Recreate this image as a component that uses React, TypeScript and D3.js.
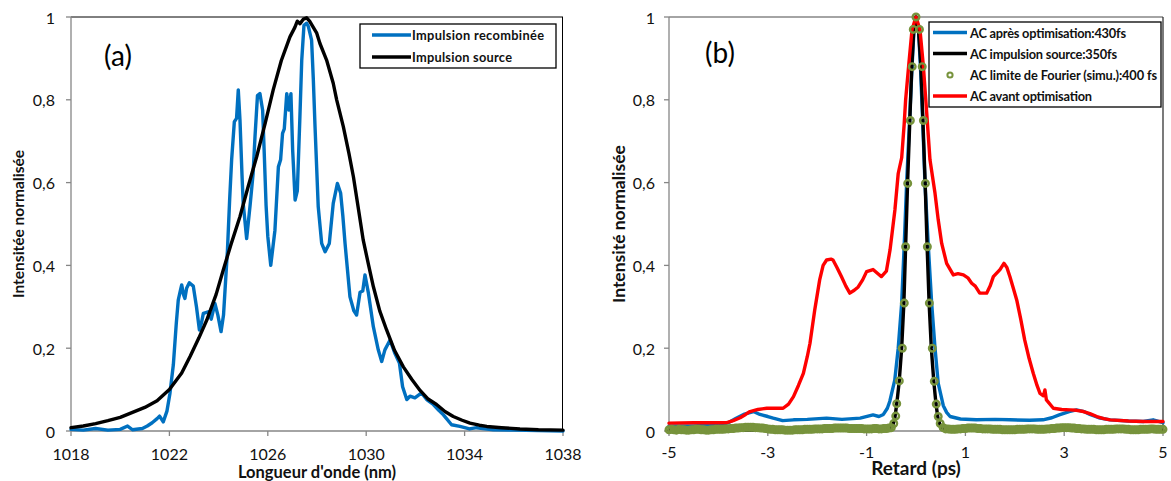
import React from "react";
import * as d3 from "d3";

// ---------- Panel (a): spectra ----------
const blueWl = [1018.0,1018.5,1019.0,1019.5,1020.0,1020.3,1020.5,1020.9,1021.1,1021.3,1021.5,1021.6,1021.75,1021.9,1022.02,1022.16,1022.28,1022.36,1022.45,1022.5,1022.57,1022.63,1022.7,1022.81,1022.97,1023.1,1023.22,1023.3,1023.38,1023.58,1023.7,1023.85,1023.97,1024.1,1024.2,1024.36,1024.45,1024.53,1024.64,1024.73,1024.8,1024.87,1024.95,1025.0,1025.14,1025.28,1025.4,1025.48,1025.58,1025.68,1025.79,1025.85,1025.93,1026.0,1026.12,1026.29,1026.43,1026.52,1026.6,1026.67,1026.77,1026.86,1026.94,1027.01,1027.11,1027.2,1027.3,1027.38,1027.47,1027.58,1027.65,1027.78,1027.85,1027.92,1028.05,1028.19,1028.33,1028.5,1028.66,1028.83,1028.96,1029.05,1029.14,1029.34,1029.5,1029.61,1029.75,1029.86,1029.95,1030.09,1030.29,1030.49,1030.63,1030.76,1030.97,1031.17,1031.35,1031.48,1031.65,1031.78,1031.98,1032.25,1032.46,1032.73,1032.95,1033.14,1033.47,1033.81,1034.2,1034.49,1035.17,1036.0,1037.0,1038.0];
const blueVal = [0.004,0.002,0.006,0.002,0.004,0.012,0.003,0.006,0.012,0.02,0.03,0.036,0.022,0.048,0.09,0.16,0.26,0.316,0.34,0.353,0.33,0.32,0.345,0.358,0.35,0.3,0.244,0.26,0.284,0.288,0.27,0.308,0.28,0.24,0.28,0.437,0.56,0.655,0.747,0.755,0.824,0.75,0.62,0.55,0.465,0.545,0.62,0.711,0.81,0.815,0.775,0.68,0.545,0.47,0.4,0.485,0.638,0.655,0.719,0.73,0.815,0.775,0.815,0.679,0.558,0.58,0.75,0.896,0.98,0.985,0.977,0.944,0.85,0.735,0.542,0.453,0.433,0.453,0.55,0.598,0.575,0.52,0.453,0.324,0.29,0.28,0.335,0.338,0.377,0.333,0.252,0.196,0.168,0.196,0.22,0.187,0.164,0.107,0.076,0.084,0.08,0.092,0.076,0.064,0.05,0.039,0.015,0.011,0.005,0.008,0.003,0.002,0.001,0.0];

const srcWl = [1018,1018.5,1019,1019.5,1020,1020.5,1021,1021.5,1022,1022.5,1022.84,1023.2,1023.52,1023.9,1024.19,1024.5,1024.87,1025.2,1025.55,1025.9,1026.22,1026.55,1026.9,1027.1,1027.2,1027.31,1027.45,1027.58,1027.7,1027.85,1027.99,1028.12,1028.39,1028.66,1028.8,1029.07,1029.3,1029.48,1029.7,1029.88,1030.1,1030.29,1030.55,1030.83,1031.15,1031.51,1031.85,1032.19,1032.5,1032.86,1033.2,1033.54,1033.9,1034.22,1034.6,1034.9,1035.5,1036.25,1037,1038];
const srcVal = [0.008,0.012,0.018,0.025,0.033,0.045,0.057,0.073,0.1,0.14,0.18,0.225,0.268,0.33,0.389,0.45,0.518,0.59,0.663,0.745,0.824,0.895,0.952,0.975,0.99,0.984,0.995,0.998,0.99,0.975,0.961,0.936,0.896,0.84,0.8,0.735,0.67,0.614,0.53,0.461,0.4,0.349,0.29,0.244,0.195,0.155,0.125,0.098,0.078,0.064,0.047,0.035,0.026,0.019,0.014,0.011,0.008,0.005,0.003,0.002];

// ---------- Panel (b): autocorrelations ----------
const acAfterT = [-5.0,-4.5,-4.0,-3.8,-3.65,-3.49,-3.29,-3.16,-3.0,-2.89,-2.7,-2.48,-2.2,-1.81,-1.5,-1.13,-0.87,-0.75,-0.66,-0.58,-0.53,-0.43,-0.36,-0.29,-0.24,-0.19,-0.13,-0.08,-0.04,0.0,0.05,0.09,0.135,0.182,0.25,0.317,0.385,0.45,0.553,0.62,0.69,0.9,1.22,1.6,1.9,2.3,2.57,2.75,2.9,3.1,3.25,3.4,3.52,3.7,3.93,4.3,4.6,4.8,5.0];
const acAfterV = [0.012,0.012,0.015,0.02,0.03,0.04,0.047,0.04,0.035,0.031,0.025,0.027,0.028,0.031,0.028,0.031,0.039,0.035,0.04,0.055,0.072,0.123,0.2,0.309,0.445,0.598,0.75,0.88,0.97,1.0,0.97,0.88,0.75,0.598,0.445,0.309,0.2,0.115,0.061,0.045,0.035,0.029,0.027,0.028,0.027,0.026,0.027,0.032,0.039,0.047,0.051,0.047,0.04,0.032,0.027,0.024,0.023,0.027,0.02];

const acSrcT = [-5.0,-2.0,-0.6,-0.48,-0.43,-0.39,-0.34,-0.29,-0.245,-0.21,-0.17,-0.125,-0.085,-0.045,0.0,0.05,0.1,0.14,0.185,0.225,0.265,0.31,0.36,0.405,0.445,0.5,0.62,5.0];
const acSrcV = [0.002,0.002,0.003,0.01,0.03,0.065,0.12,0.2,0.31,0.445,0.6,0.75,0.88,0.97,1.0,0.97,0.88,0.75,0.6,0.445,0.31,0.2,0.12,0.065,0.03,0.01,0.003,0.002];

const acBeforeT = [-5.0,-4.5,-4.0,-3.83,-3.7,-3.56,-3.45,-3.36,-3.2,-3.02,-2.85,-2.69,-2.58,-2.48,-2.38,-2.28,-2.2,-2.146,-2.05,-1.95,-1.88,-1.81,-1.72,-1.68,-1.6,-1.51,-1.42,-1.34,-1.25,-1.17,-1.08,-1.0,-0.87,-0.77,-0.7,-0.6,-0.526,-0.427,-0.36,-0.29,-0.24,-0.21,-0.15,-0.08,0.0,0.08,0.15,0.21,0.283,0.385,0.45,0.52,0.62,0.755,0.85,0.96,1.05,1.127,1.2,1.29,1.43,1.5,1.566,1.7,1.78,1.84,1.9,1.97,2.04,2.12,2.2,2.29,2.375,2.45,2.51,2.58,2.61,2.64,2.78,2.95,3.12,3.25,3.39,3.52,3.66,3.8,3.93,4.3,4.6,5.0];
const acBeforeV = [0.019,0.02,0.02,0.02,0.025,0.032,0.04,0.047,0.052,0.055,0.055,0.055,0.065,0.083,0.11,0.139,0.18,0.212,0.292,0.365,0.4,0.413,0.415,0.413,0.395,0.373,0.35,0.333,0.34,0.348,0.365,0.385,0.39,0.38,0.373,0.386,0.437,0.534,0.622,0.66,0.74,0.8,0.88,0.97,1.0,0.97,0.88,0.78,0.655,0.574,0.51,0.453,0.405,0.377,0.38,0.377,0.37,0.357,0.35,0.333,0.333,0.35,0.373,0.39,0.405,0.395,0.373,0.345,0.316,0.27,0.22,0.175,0.139,0.11,0.091,0.085,0.099,0.075,0.055,0.052,0.051,0.05,0.047,0.042,0.035,0.03,0.027,0.024,0.023,0.023];

// Fourier-limit simulation (hollow circles): left baseline, peak, right baseline
const fourierLeftT = [-5.00,-4.95,-4.90,-4.85,-4.80,-4.75,-4.70,-4.65,-4.60,-4.55,-4.50,-4.45,-4.40,-4.35,-4.30,-4.25,-4.20,-4.15,-4.10,-4.05,-4.00,-3.95,-3.90,-3.85,-3.80,-3.75,-3.70,-3.65,-3.60,-3.55,-3.50,-3.45,-3.40,-3.35,-3.30,-3.25,-3.20,-3.15,-3.10,-3.05,-3.00,-2.95,-2.90,-2.85,-2.80,-2.75,-2.70,-2.65,-2.60,-2.55,-2.50,-2.45,-2.40,-2.35,-2.30,-2.25,-2.20,-2.15,-2.10,-2.05,-2.00,-1.95,-1.90,-1.85,-1.80,-1.75,-1.70,-1.65,-1.60,-1.55,-1.50,-1.45,-1.40,-1.35,-1.30,-1.25,-1.20,-1.15,-1.10,-1.05,-1.00,-0.95,-0.90,-0.85,-0.80,-0.75,-0.70,-0.65,-0.60,-0.55,-0.50];
const fourierLeftV = [0.003,0.004,0.003,0.002,0.004,0.003,0.003,0.002,0.002,0.003,0.003,0.004,0.004,0.003,0.003,0.002,0.002,0.003,0.003,0.004,0.004,0.004,0.004,0.005,0.005,0.006,0.006,0.007,0.007,0.008,0.008,0.009,0.009,0.009,0.009,0.008,0.008,0.007,0.007,0.006,0.005,0.004,0.004,0.003,0.003,0.003,0.003,0.002,0.002,0.002,0.002,0.003,0.003,0.003,0.003,0.004,0.004,0.004,0.004,0.005,0.005,0.005,0.005,0.006,0.006,0.006,0.006,0.007,0.007,0.007,0.007,0.007,0.007,0.006,0.006,0.006,0.006,0.006,0.006,0.005,0.005,0.005,0.005,0.006,0.006,0.005,0.005,0.006,0.006,0.007,0.008];
const fourierPeakT = [-0.45,-0.41,-0.39,-0.338,-0.277,-0.237,-0.21,-0.168,-0.114,-0.077,-0.055,0.0,0.07,0.126,0.15,0.19,0.23,0.27,0.33,0.37,0.41,0.45,0.49];
const fourierPeakV = [0.018,0.036,0.066,0.121,0.2,0.309,0.445,0.598,0.75,0.88,0.97,1.0,0.97,0.88,0.75,0.598,0.445,0.309,0.2,0.12,0.065,0.035,0.018];
const fourierRightT = [0.55,0.60,0.65,0.70,0.75,0.80,0.85,0.90,0.95,1.00,1.05,1.10,1.15,1.20,1.25,1.30,1.35,1.40,1.45,1.50,1.55,1.60,1.65,1.70,1.75,1.80,1.85,1.90,1.95,2.00,2.05,2.10,2.15,2.20,2.25,2.30,2.35,2.40,2.45,2.50,2.55,2.60,2.65,2.70,2.75,2.80,2.85,2.90,2.95,3.00,3.05,3.10,3.15,3.20,3.25,3.30,3.35,3.40,3.45,3.50,3.55,3.60,3.65,3.70,3.75,3.80,3.85,3.90,3.95,4.00,4.05,4.10,4.15,4.20,4.25,4.30,4.35,4.40,4.45,4.50,4.55,4.60,4.65,4.70,4.75,4.80,4.85,4.90,4.95,5.00];
const fourierRightV = [0.008,0.005,0.005,0.004,0.004,0.004,0.005,0.005,0.006,0.006,0.007,0.007,0.007,0.007,0.006,0.006,0.005,0.005,0.005,0.005,0.004,0.004,0.004,0.004,0.003,0.003,0.003,0.003,0.003,0.003,0.004,0.004,0.004,0.004,0.005,0.005,0.005,0.005,0.004,0.004,0.004,0.004,0.005,0.005,0.006,0.006,0.007,0.007,0.008,0.008,0.008,0.008,0.007,0.007,0.006,0.006,0.005,0.005,0.004,0.004,0.004,0.004,0.003,0.003,0.003,0.003,0.004,0.004,0.004,0.004,0.005,0.005,0.005,0.005,0.004,0.004,0.003,0.003,0.003,0.003,0.004,0.004,0.004,0.004,0.005,0.005,0.004,0.004,0.004,0.004];

const yTicks = [0, 0.2, 0.4, 0.6, 0.8, 1];
const yTickLabels = ["0", "0,2", "0,4", "0,6", "0,8", "1"];
const xTicksA = [1018, 1022, 1026, 1030, 1034, 1038];
const xTicksB = [-5, -3, -1, 1, 3, 5];

const legendA = ["Impulsion recombinée", "Impulsion source"];
const legendB = ["AC après optimisation:430fs", "AC impulsion source:350fs", "AC limite de Fourier (simu.):400 fs", "AC avant optimisation"];

const C_BLUE = "#0070C0";
const C_RED = "#FF0000";
const C_GREEN = "#77933C";
const AXIS = "#868686";
const FONT = "Lato, 'Open Sans', sans-serif";

const xA = d3.scaleLinear().domain([1018, 1038]).range([71, 563]);
const xB = d3.scaleLinear().domain([-5, 5]).range([669, 1163]);
const yS = d3.scaleLinear().domain([0, 1]).range([431, 17]);

function pathOf(xs: number[], vs: number[], x: d3.ScaleLinear<number, number>) {
  const pts: [number, number][] = xs.map((v, i) => [v, vs[i]]);
  return d3.line<[number, number]>().x((d) => x(d[0])).y((d) => yS(d[1]))(pts) || "";
}

function YAxis({ x0, labelX }: { x0: number; labelX: number }) {
  return (
    <g>
      <line x1={x0} x2={x0} y1={yS(0)} y2={yS(1)} stroke={AXIS} strokeWidth={1.3} />
      {yTicks.map((t, i) => (
        <g key={i}>
          <line x1={x0 - 5} x2={x0} y1={yS(t)} y2={yS(t)} stroke={AXIS} strokeWidth={1.3} />
          <text x={labelX} y={yS(t)} textAnchor="end" dominantBaseline="central" fontSize={16} fill="#111">
            {yTickLabels[i]}
          </text>
        </g>
      ))}
    </g>
  );
}

export default function App() {
  const pBlue = pathOf(blueWl, blueVal, xA);
  const pSrc = pathOf(srcWl, srcVal, xA);
  const pAfter = pathOf(acAfterT, acAfterV, xB);
  const pSrcB = pathOf(acSrcT, acSrcV, xB);
  const pBefore = pathOf(acBeforeT, acBeforeV, xB);
  const lineProps = { fill: "none", strokeWidth: 3.4, strokeLinejoin: "round" as const, strokeLinecap: "round" as const };
  const fT = [...fourierLeftT, ...fourierPeakT, ...fourierRightT];
  const fV = [...fourierLeftV, ...fourierPeakV, ...fourierRightV];
  const legendFont = 12.8;
  const lenA = [132, 100];
  const lenB = [156, 147, 187, 122];
  const rowsA = [35, 57];
  const rowsB = [32.5, 53.5, 75, 96];

  return (
    <svg width={1171} height={481} style={{ position: "absolute", left: 0, top: 0, background: "#fff" }} fontFamily={FONT}>
      {/* ---------- Panel (a) ---------- */}
      <g>
        <line x1={71} x2={563} y1={17} y2={17} stroke="#000" strokeWidth={1} />
        <line x1={562.5} x2={562.5} y1={17} y2={431} stroke="#000" strokeWidth={1} />
        <line x1={71} x2={563} y1={431} y2={431} stroke={AXIS} strokeWidth={1.3} />
        {xTicksA.map((t) => (
          <g key={t}>
            <line x1={xA(t)} x2={xA(t)} y1={431} y2={436} stroke={AXIS} strokeWidth={1.3} />
            <text x={xA(t)} y={459.5} textAnchor="middle" fontSize={16} fill="#111">{t}</text>
          </g>
        ))}
        <YAxis x0={71} labelX={55} />
        <path d={pBlue} stroke={C_BLUE} {...lineProps} />
        <path d={pSrc} stroke="#000" {...lineProps} />
        <text x={317} y={477.5} textAnchor="middle" fontSize={16.5} fontWeight="bold" fill="#111">Longueur d'onde (nm)</text>
        <text transform="translate(18,224) rotate(-90)" textAnchor="middle" dominantBaseline="central" fontSize={15.5} fontWeight="bold" fill="#111">Intensitée normalisée</text>
        <text x={118} y={55} textAnchor="middle" dominantBaseline="central" fontSize={28} fill="#000">(a)</text>
        {/* legend */}
        <rect x={360} y={24} width={196} height={44} fill="#fff" stroke="#000" strokeWidth={1.3} />
        <line x1={372} x2={411} y1={rowsA[0]} y2={rowsA[0]} stroke={C_BLUE} strokeWidth={3.4} />
        <line x1={372} x2={411} y1={rowsA[1]} y2={rowsA[1]} stroke="#000" strokeWidth={3.4} />
        {legendA.map((s, i) => (
          <text key={s} x={412} y={rowsA[i]} dominantBaseline="central" fontSize={legendFont} fontWeight="bold" fill="#111" textLength={lenA[i]}>{s}</text>
        ))}
      </g>

      {/* ---------- Panel (b) ---------- */}
      <g>
        <line x1={669} x2={1163} y1={17} y2={17} stroke={AXIS} strokeWidth={1.3} />
        <line x1={1163} x2={1163} y1={17} y2={431} stroke="#333" strokeWidth={1.3} />
        <line x1={669} x2={1163} y1={431} y2={431} stroke={AXIS} strokeWidth={1.3} />
        {xTicksB.map((t) => (
          <g key={t}>
            <line x1={xB(t)} x2={xB(t)} y1={431} y2={436} stroke={AXIS} strokeWidth={1.3} />
            <text x={xB(t)} y={457.5} textAnchor="middle" fontSize={16} fill="#111">{t}</text>
          </g>
        ))}
        <YAxis x0={669} labelX={655} />
        <path d={pAfter} stroke={C_BLUE} {...lineProps} />
        <path d={pSrcB} stroke="#000" {...lineProps} />
        <path d={pBefore} stroke={C_RED} {...lineProps} />
        {fT.map((t, i) => (
          <circle key={i} cx={xB(t)} cy={yS(fV[i])} r={3.3} fill="none" stroke={C_GREEN} strokeWidth={2.4} />
        ))}
        <text x={916} y={474.5} textAnchor="middle" fontSize={19} fontWeight="bold" fill="#111">Retard (ps)</text>
        <text transform="translate(618,224) rotate(-90)" textAnchor="middle" dominantBaseline="central" fontSize={17.5} fontWeight="bold" fill="#111">Intensité normalisée</text>
        <text x={720} y={52} textAnchor="middle" dominantBaseline="central" fontSize={28} fill="#000">(b)</text>
        {/* legend */}
        <rect x={929} y={22} width={232} height={85} fill="#fff" stroke="#000" strokeWidth={1.3} />
        <line x1={933} x2={967} y1={rowsB[0]} y2={rowsB[0]} stroke={C_BLUE} strokeWidth={3.4} />
        <line x1={933} x2={967} y1={rowsB[1]} y2={rowsB[1]} stroke="#000" strokeWidth={3.4} />
        <circle cx={950} cy={rowsB[2]} r={2.6} fill="none" stroke={C_GREEN} strokeWidth={2} />
        <line x1={933} x2={967} y1={rowsB[3]} y2={rowsB[3]} stroke={C_RED} strokeWidth={3.4} />
        {legendB.map((s, i) => (
          <text key={s} x={970} y={rowsB[i]} dominantBaseline="central" fontSize={legendFont} fontWeight="bold" fill="#111" textLength={lenB[i]}>{s}</text>
        ))}
      </g>
    </svg>
  );
}
